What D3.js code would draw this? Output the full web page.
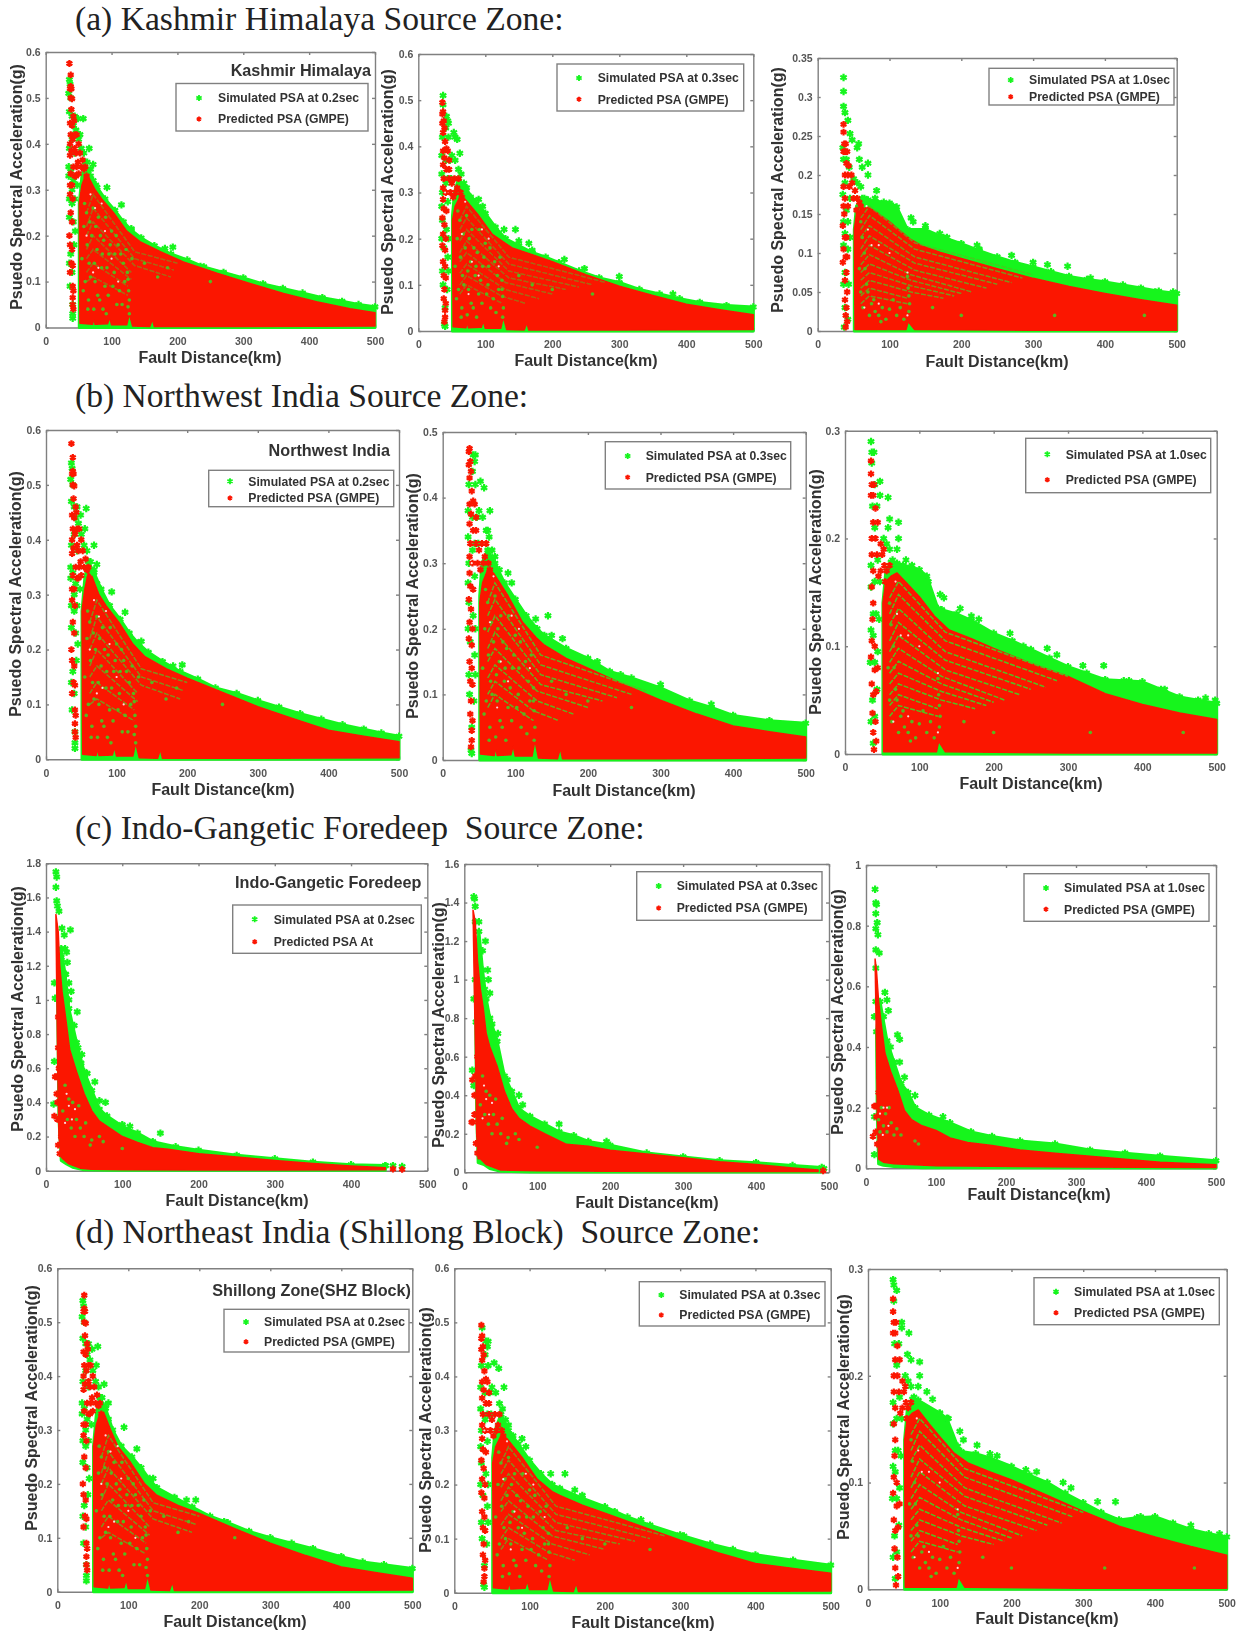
<!DOCTYPE html>
<html>
<head>
<meta charset="utf-8">
<script src="https://cdn.jsdelivr.net/npm/d3@7"></script>
<style>
  body { margin: 0; background: #fff; }
  svg { display: block; }
  .heading { font-family: "Liberation Serif", serif; font-size: 33.6px; fill: #222; white-space: pre; }
  .tick text { font-family: "Liberation Sans", sans-serif; font-size: 10.5px; font-weight: bold; fill: #555; }
  .axisLabel { font-family: "Liberation Sans", sans-serif; font-size: 16px; font-weight: bold; fill: #333; text-anchor: middle; }
  .zoneTitle { font-family: "Liberation Sans", sans-serif; font-size: 16.2px; font-weight: bold; fill: #333; text-anchor: end; }
  .legendText { font-family: "Liberation Sans", sans-serif; font-size: 12.2px; font-weight: bold; fill: #333; }
</style>
</head>
<body>
<div id="chart"></div>
<script>
// tick labels
var xTicks = [0, 100, 200, 300, 400, 500];
var ticks06 = [0, 0.1, 0.2, 0.3, 0.4, 0.5, 0.6];
var ticks05 = [0, 0.1, 0.2, 0.3, 0.4, 0.5];
var ticks035 = [0, 0.05, 0.1, 0.15, 0.2, 0.25, 0.3, 0.35];
var ticks03 = [0, 0.1, 0.2, 0.3];
var ticks18 = [0, 0.2, 0.4, 0.6, 0.8, 1, 1.2, 1.4, 1.6, 1.8];
var ticks16 = [0, 0.2, 0.4, 0.6, 0.8, 1, 1.2, 1.4, 1.6];
var ticks10 = [0, 0.2, 0.4, 0.6, 0.8, 1];

// upper edge of the dense simulated / predicted clouds, [km, g]
var a1Sim = [[51,.27],[55,.33],[60,.36],[68,.33],[78,.305],[90,.28],[105,.255],[118,.23],[130,.212],[145,.195],[165,.178],[190,.16],[215,.147],[240,.132],[270,.12],[300,.108],[330,.095],[360,.085],[390,.075],[420,.065],[450,.057],[475,.05],[500,.045]];
var a1Pred = [[51,.27],[55,.31],[60,.33],[66,.325],[75,.3],[85,.28],[103,.25],[123,.21],[143,.187],[174,.165],[209,.143],[260,.118],[310,.096],[361,.074],[411,.056],[462,.041],[500,.032]];
var a2Sim = [[51,.25],[54,.3],[60,.33],[70,.31],[85,.28],[100,.255],[115,.225],[130,.2],[150,.185],[170,.17],[190,.16],[210,.148],[240,.13],[270,.115],[300,.105],[330,.09],[360,.08],[390,.07],[420,.062],[460,.055],[500,.052]];
var a2Pred = [[51,.24],[55,.27],[62,.29],[70,.285],[90,.25],[110,.21],[130,.19],[140,.18],[170,.165],[200,.15],[250,.122],[300,.097],[350,.077],[400,.058],[450,.046],[500,.035]];
var a3Sim = [[51,.13],[54,.16],[62,.17],[70,.168],[100,.164],[110,.159],[125,.13],[150,.13],[175,.12],[200,.112],[225,.103],[250,.095],[275,.088],[300,.082],[325,.076],[350,.07],[375,.066],[400,.063],[425,.059],[450,.055],[475,.051],[500,.048]];
var a3Pred = [[51,.13],[54,.15],[60,.155],[70,.159],[85,.15],[100,.14],[115,.128],[130,.117],[145,.109],[170,.101],[200,.093],[250,.08],[300,.0675],[350,.057],[400,.048],[450,.04],[500,.033]];
var b1Sim = [[51,.27],[55,.33],[60,.36],[68,.34],[78,.31],[90,.28],[105,.255],[118,.23],[130,.212],[145,.195],[165,.178],[190,.16],[215,.146],[240,.13],[270,.12],[300,.107],[330,.095],[360,.083],[390,.073],[420,.063],[450,.055],[475,.048],[500,.042]];
var b1Pred = [[51,.27],[55,.31],[60,.34],[66,.33],[75,.3],[85,.28],[103,.25],[123,.21],[140,.187],[170,.165],[200,.148],[250,.122],[300,.096],[350,.074],[400,.053],[450,.042],[500,.032]];
var b2Sim = [[51,.25],[54,.3],[62,.32],[72,.3],[85,.27],[100,.245],[115,.22],[130,.2],[140,.19],[170,.17],[200,.155],[230,.135],[260,.125],[300,.11],[340,.09],[370,.08],[400,.068],[450,.06],[500,.056]];
var b2Pred = [[51,.24],[55,.27],[62,.29],[70,.285],[90,.25],[110,.21],[130,.185],[140,.175],[170,.155],[200,.14],[250,.115],[300,.091],[350,.07],[400,.052],[450,.043],[500,.035]];
var b3Sim = [[51,.14],[55,.17],[62,.178],[70,.177],[100,.171],[110,.165],[125,.135],[130,.134],[150,.13],[170,.124],[200,.112],[225,.105],[250,.097],[275,.089],[300,.081],[325,.075],[350,.069],[375,.068],[400,.067],[425,.06],[450,.053],[475,.05],[500,.047]];
var b3Pred = [[51,.14],[55,.16],[62,.165],[70,.168],[85,.157],[100,.146],[120,.128],[140,.115],[170,.107],[200,.098],[250,.084],[300,.072],[350,.056],[400,.046],[450,.038],[500,.032]];
var d1Sim = [[51,.27],[55,.33],[60,.36],[68,.34],[78,.3],[90,.27],[105,.25],[118,.23],[130,.208],[140,.193],[165,.175],[190,.157],[215,.14],[240,.128],[270,.112],[300,.1],[330,.09],[360,.08],[400,.065],[430,.055],[460,.05],[500,.043]];
var d1Pred = [[51,.27],[55,.31],[60,.33],[66,.33],[75,.3],[85,.27],[103,.24],[123,.2],[140,.179],[170,.16],[200,.145],[250,.117],[300,.09],[350,.067],[400,.046],[450,.035],[500,.025]];
var d2Sim = [[51,.25],[54,.3],[62,.33],[72,.3],[85,.275],[100,.245],[115,.22],[130,.2],[140,.193],[170,.175],[200,.159],[230,.14],[260,.125],[300,.107],[340,.09],[370,.08],[400,.07],[450,.06],[500,.051]];
var d2Pred = [[51,.24],[55,.27],[62,.29],[70,.285],[90,.25],[110,.21],[130,.187],[140,.18],[170,.162],[200,.147],[250,.122],[300,.097],[350,.074],[400,.054],[450,.045],[500,.036]];
var d3Sim = [[51,.14],[55,.17],[62,.178],[70,.177],[100,.165],[110,.16],[125,.134],[130,.129],[150,.127],[170,.123],[200,.115],[225,.107],[250,.1],[275,.09],[300,.081],[325,.072],[350,.065],[375,.067],[400,.068],[425,.062],[450,.056],[475,.052],[500,.049]];
var d3Pred = [[51,.14],[55,.16],[62,.165],[70,.168],[85,.155],[100,.143],[120,.1275],[140,.118],[170,.11],[200,.1025],[250,.088],[300,.073],[350,.059],[400,.049],[450,.04],[500,.032]];
var c1Sim = [[20,.06],[17,.3],[15,1.1],[20,1.3],[25,1.15],[30,.95],[40,.75],[50,.58],[60,.47],[70,.36],[80,.32],[100,.26],[120,.22],[140,.17],[170,.14],[200,.12],[250,.09],[300,.07],[350,.05],[400,.035],[445,.03]];
var c1Pred = [[20,.08],[17,.2],[16,.45],[15,.75],[14,1.1],[13,1.5],[16,1.4],[18,1.2],[21,1.05],[25,.92],[31,.71],[40,.58],[50,.45],[60,.35],[70,.29],[85,.245],[100,.2],[120,.165],[140,.135],[160,.125],[200,.1],[250,.08],[300,.06],[350,.042],[400,.028],[445,.018]];
var c2Sim = [[19,.05],[17,.3],[15,1],[20,1.25],[25,1.05],[30,.9],[35,.8],[45,.68],[55,.5],[65,.42],[75,.33],[90,.29],[110,.25],[130,.21],[150,.19],[170,.16],[200,.14],[250,.1],[300,.08],[350,.06],[400,.05],[450,.035],[490,.025]];
var c2Pred = [[19,.07],[17,.2],[16,.5],[14,.9],[12,1.36],[15,1.3],[18,1.1],[22,.95],[26,.85],[30,.72],[35,.65],[45,.55],[55,.42],[65,.33],[75,.28],[90,.24],[110,.2],[140,.145],[170,.135],[200,.115],[250,.095],[300,.075],[350,.055],[400,.04],[450,.022],[485,.012]];
var c3Sim = [[18,.015],[16,.2],[15,.45],[20,.55],[30,.42],[40,.35],[50,.28],[60,.25],[70,.2],[90,.175],[120,.15],[150,.12],[180,.105],[220,.09],[270,.08],[320,.06],[370,.05],[420,.04],[500,.025]];
var c3Pred = [[18,.03],[16,.2],[15,.4],[13,.69],[15,.65],[18,.55],[22,.47],[27,.38],[35,.32],[45,.26],[55,.19],[65,.16],[80,.14],[100,.125],[120,.1],[145,.085],[180,.075],[220,.06],[270,.05],[320,.04],[370,.03],[420,.02],[500,.012]];

// lower edge of the predicted cloud, [km, g]
var floor06 = [[500,.003],[300,.002],[165,.002],[162,.018],[158,.002],[132,.003],[127,.03],[123,.006],[100,.006],[97,.022],[94,.008],[75,.007],[73,.02],[71,.007],[52,.009]];
var floor03 = [[500,.001],[300,.001],[135,.002],[126,.012],[123,.002],[52,.002]];
var c1Floor = [[445,.005],[300,.004],[200,.004],[100,.005],[60,.008],[45,.015],[30,.04],[22,.07]];
var c2Floor = [[485,.004],[300,.004],[200,.005],[100,.008],[50,.012],[30,.04],[22,.07]];
var c3Floor = [[500,.003],[300,.004],[100,.008],[40,.015],[25,.02]];

// lower edge of the simulated cloud where it lifts off the axis
var c1SimFloor = [[445,.002],[80,.002],[50,.005],[35,.02],[27,.04]];
var c2SimFloor = [[490,.001],[90,.002],[50,.005],[35,.02],[27,.04]];
var c3SimFloor = [[500,.001],[80,.002],[40,.006],[25,.01]];

// near field column of points at 35-45 km and the wedge joining it to the cloud
var near02Red = [[36,.575],[38,.55],[38,.525],[37,.52],[39,.52],[38,.5],[40,.498],[39,.475],[42,.46],[37,.445],[40,.44],[43,.45],[38,.42],[41,.41],[37,.4],[39,.385],[44,.39],[37,.375],[42,.35],[38,.335],[44,.33],[37,.31],[40,.31],[37,.29],[41,.28],[38,.25],[40,.23],[36,.2],[37,.18],[40,.17],[39,.14],[37,.12],[41,.135],[41,.09],[42,.08],[41,.065],[41,.05],[42,.04],[46,.38],[47,.35],[49,.36],[46,.33],[50,.335],[52,.38],[54,.35],[56,.365],[58,.345],[60,.35],[62,.33],[50,.4],[47,.42],[44,.42]];
var near02Green = [[36,.54],[37,.53],[35,.51],[38,.5],[36,.47],[40,.46],[44,.46],[42,.44],[46,.43],[40,.41],[36,.39],[44,.38],[35,.35],[38,.34],[35,.33],[42,.32],[40,.3],[36,.28],[44,.28],[40,.27],[36,.24],[42,.23],[45,.21],[43,.18],[38,.16],[36,.14],[40,.12],[37,.09],[41,.05],[41,.03],[41,.02],[50,.41],[54,.39],[58,.38],[63,.36],[68,.345],[72,.32],[48,.31]];
var near03Red = [[36,.495],[37,.475],[36,.47],[38,.455],[36,.45],[39,.44],[37,.43],[40,.41],[37,.39],[42,.395],[39,.375],[44,.39],[37,.36],[42,.35],[38,.33],[46,.35],[37,.31],[41,.3],[37,.285],[38,.265],[42,.26],[36,.245],[39,.23],[37,.21],[41,.2],[36,.185],[40,.175],[37,.15],[40,.14],[38,.12],[41,.115],[39,.09],[38,.07],[41,.06],[40,.045],[40,.03],[39,.02],[46,.33],[48,.3],[50,.32],[52,.29],[54,.33],[56,.3],[58,.31],[60,.33],[63,.3],[65,.29],[46,.37]];
var near03Green = [[37,.51],[37,.49],[42,.465],[44,.455],[41,.44],[36,.42],[45,.42],[35,.38],[41,.37],[47,.37],[35,.34],[44,.33],[36,.3],[41,.32],[35,.27],[44,.28],[36,.24],[42,.22],[35,.2],[45,.2],[38,.18],[44,.16],[36,.13],[45,.13],[37,.1],[43,.09],[40,.05],[39,.015],[40,.01],[50,.38],[55,.37],[60,.35],[64,.34],[68,.32],[72,.31],[78,.29],[49,.33]];
var a3NearRed = [[36,.265],[36,.255],[37,.24],[39,.24],[36,.23],[38,.23],[41,.23],[40,.215],[43,.212],[38,.2],[42,.2],[47,.2],[36,.185],[44,.185],[38,.17],[36,.16],[42,.16],[37,.15],[35,.135],[38,.12],[40,.12],[36,.105],[39,.095],[35,.088],[41,.095],[40,.075],[38,.065],[41,.05],[38,.04],[40,.03],[39,.02],[41,.012],[39,.005],[48,.19],[52,.18],[55,.17],[58,.165],[60,.16],[54,.155],[50,.17],[63,.155]];
var a3NearGreen = [[35,.235],[36,.22],[40,.22],[44,.21],[38,.19],[35,.175],[45,.17],[40,.155],[36,.14],[42,.14],[38,.125],[45,.12],[36,.11],[42,.105],[38,.075],[36,.06],[43,.06],[38,.03],[42,.015],[37,.005],[50,.195],[55,.19],[60,.185],[65,.17]];
var near10Red = [[35,.272],[35,.26],[36,.25],[39,.25],[35,.24],[38,.24],[41,.228],[38,.215],[44,.215],[36,.2],[41,.2],[48,.195],[36,.185],[43,.185],[52,.19],[38,.17],[36,.155],[45,.165],[38,.14],[37,.125],[36,.105],[40,.1],[35,.09],[44,.08],[40,.078],[36,.065],[38,.055],[42,.058],[37,.038],[41,.03],[38,.02],[42,.012],[39,.004],[50,.185],[53,.175],[56,.17],[60,.175],[62,.16],[65,.16],[58,.155],[54,.16],[48,.17]];
var near10Green = [[36,.27],[37,.23],[43,.23],[40,.21],[35,.175],[44,.18],[40,.16],[35,.155],[47,.16],[38,.13],[42,.13],[35,.115],[38,.11],[46,.125],[34,.085],[40,.085],[44,.095],[37,.05],[43,.06],[35,.03],[40,.035],[38,.01],[52,.2],[56,.195],[60,.19],[64,.18],[68,.175],[58,.17]];

// stray points above the clouds
var a1Out = [[49,.455],[52,.42],[57,.455],[66,.39],[72,.355],[76,.31],[93,.305],[115,.267],[110,.235],[130,.215],[181,.172],[193,.175],[235,.133]];
var a2Out = [[45,.45],[53,.43],[58,.415],[55,.42],[62,.385],[90,.285],[96,.27],[128,.22],[145,.22],[150,.195],[165,.19],[170,.175],[218,.155],[248,.135],[300,.118],[380,.08]];
var a3Out = [[36,.325],[36,.307],[36,.288],[38,.28],[42,.27],[45,.253],[48,.245],[57,.24],[55,.235],[58,.22],[62,.21],[70,.215],[70,.2],[82,.18],[80,.17],[92,.165],[105,.16],[110,.15],[130,.145],[133,.14],[150,.135],[170,.125],[180,.12],[222,.11],[225,.105],[270,.097],[300,.088],[320,.085],[348,.083],[380,.068],[470,.05],[495,.05]];
var b1Out = [[49,.445],[55,.42],[57,.457],[68,.39],[72,.355],[93,.305],[112,.268],[132,.21],[135,.215],[180,.17],[193,.172]];
var b2Out = [[45,.465],[52,.425],[57,.415],[65,.38],[62,.35],[90,.285],[95,.27],[128,.215],[145,.22],[150,.19],[165,.185],[213,.15],[245,.13],[300,.115],[370,.085]];
var b3Out = [[35,.29],[36,.28],[39,.28],[40,.25],[47,.253],[47,.24],[58,.238],[60,.218],[58,.21],[72,.215],[72,.2],[70,.19],[82,.18],[78,.175],[90,.175],[100,.165],[110,.16],[112,.16],[128,.148],[133,.145],[155,.135],[170,.128],[180,.125],[222,.112],[240,.1],[272,.098],[285,.092],[320,.082],[348,.082],[382,.068],[430,.06],[485,.052],[498,.05]];
var c1Out = [[13,1.75],[14,1.72],[13,1.66],[14,1.58],[15,1.55],[17,1.52],[21,1.42],[24,1.38],[32,1.41],[25,1.3],[27,1.28],[20,1.25],[28,1.22],[26,1.15],[30,1.1],[33,1.05],[11,1.1],[12,1.01],[30,1],[41,.93],[37,.85],[42,.72],[47,.68],[46,.63],[54,.57],[64,.52],[70,.41],[78,.4],[11,.64],[10,.39],[100,.27],[110,.26],[150,.22],[455,.03],[467,.025],[445,.03]];
var c1Red = [[12,.55],[11,.32],[15,.4],[17,.6],[20,.65],[22,.55],[18,.3],[20,.2],[455,.01],[467,.008],[14,.55],[16,.72],[16,.9],[14,.45],[15,.3],[16,.15],[18,.1]];
var c2Out = [[13,1.43],[14,1.42],[15,1.38],[15,1.3],[20,1.3],[29,1.2],[25,1.15],[32,1.05],[33,1],[28,.95],[35,.93],[13,.9],[16,.78],[38,.77],[46,.72],[11,.53],[13,.45],[59,.48],[75,.4],[80,.35],[130,.25],[195,.16],[493,.02]];
var c2Red = [[11,.48],[10,.26],[14,.4],[18,.6],[22,.45],[12,.26],[16,.15],[18,.1],[492,.008],[14,.3],[15,.5]];
var c3Out = [[13,.92],[14,.875],[15,.87],[14,.84],[16,.81],[14,.79],[17,.77],[14,.72],[19,.71],[30,.555],[32,.52],[45,.44],[48,.425],[48,.35],[55,.3],[70,.24],[110,.17],[14,.66],[12,.5],[14,.55],[12,.17],[12,.045],[35,.4],[27,.58],[25,.5],[35,.35]];
var c3Red = [[12,.205],[14,.205],[10,.105],[15,.17],[18,.25],[20,.3],[22,.13],[25,.27],[14,.12],[16,.08]];
var d1Out = [[49,.45],[57,.455],[55,.42],[66,.385],[72,.35],[94,.305],[112,.265],[130,.21],[135,.21],[182,.17],[195,.17],[235,.13]];
var d2Out = [[45,.465],[53,.425],[59,.415],[66,.38],[90,.285],[95,.27],[128,.22],[147,.22],[160,.19],[170,.18],[213,.15],[248,.135],[305,.105]];
var d3Out = [[35,.29],[36,.285],[40,.28],[47,.25],[47,.245],[57,.24],[55,.22],[60,.215],[72,.213],[72,.2],[70,.19],[82,.185],[90,.178],[100,.165],[110,.16],[112,.16],[128,.148],[133,.14],[152,.135],[170,.127],[180,.125],[220,.112],[235,.11],[272,.1],[283,.095],[320,.082],[345,.082],[380,.068],[450,.06],[490,.052]];

// the thin green curves running through the red, one list per period
var fan02 = [[[62,.25],[72,.29],[135,.165],[200,.14]],[[62,.22],[72,.26],[135,.15],[195,.125]],[[62,.2],[72,.23],[135,.135],[190,.11]],[[62,.17],[72,.2],[130,.12]],[[62,.15],[72,.17],[130,.105]],[[62,.12],[72,.14],[125,.09]],[[62,.1],[72,.11],[125,.07]]];
var fan03 = [[[62,.24],[72,.27],[135,.16],[280,.105]],[[62,.22],[72,.245],[135,.145],[260,.1]],[[62,.195],[72,.22],[135,.13],[240,.095]],[[62,.17],[72,.195],[135,.115],[220,.09]],[[62,.15],[72,.17],[130,.105],[200,.08]],[[62,.125],[72,.145],[130,.09],[180,.07]],[[62,.1],[72,.12],[125,.075],[160,.06]],[[62,.08],[72,.1],[125,.06]]];
var fan10 = [[[60,.145],[72,.16],[135,.113],[300,.072]],[[60,.13],[72,.148],[135,.105],[285,.068]],[[60,.12],[72,.135],[135,.095],[270,.062]],[[60,.105],[72,.122],[135,.087],[250,.06]],[[60,.095],[72,.11],[135,.078],[235,.055]],[[60,.085],[72,.098],[130,.072],[215,.05]],[[60,.075],[72,.086],[130,.065],[200,.048]],[[60,.065],[72,.075],[130,.058],[190,.045]],[[60,.055],[72,.065],[130,.05],[175,.042]],[[60,.045],[72,.055],[125,.042]],[[60,.035],[72,.045],[125,.035]]];

// green flecks and white holes inside the red
var speck02 = [[58,.22],[62,.25],[66,.14],[70,.2],[72,.26],[75,.1],[78,.17],[80,.24],[82,.06],[85,.13],[88,.19],[90,.09],[92,.03],[96,.16],[100,.21],[104,.12],[108,.05],[110,.18],[112,.08],[118,.14],[124,.12],[125,.105],[126,.08],[127,.06],[125,.045],[127,.03],[60,.1],[65,.06],[73,.04],[150,.14],[170,.11],[185,.13],[250,.1],[55,.15],[57,.08],[59,.27],[63,.18],[64,.04],[67,.23],[68,.11],[74,.14],[76,.22],[79,.07],[83,.2],[86,.16],[87,.04],[91,.24],[93,.13],[95,.07],[98,.18],[102,.09],[105,.16],[107,.2],[114,.16],[116,.05],[120,.1],[122,.17],[131,.15]];
var speck03 = [[58,.2],[62,.24],[66,.12],[70,.18],[72,.25],[75,.09],[78,.15],[80,.22],[82,.05],[85,.12],[88,.17],[90,.08],[96,.14],[100,.19],[104,.1],[108,.05],[112,.07],[118,.12],[125,.11],[125,.09],[126,.075],[127,.05],[126,.03],[60,.09],[65,.05],[73,.035],[150,.12],[170,.1],[200,.09],[260,.08],[55,.14],[57,.07],[59,.26],[63,.16],[64,.03],[67,.21],[68,.1],[74,.13],[76,.2],[79,.06],[83,.18],[86,.14],[87,.03],[91,.22],[93,.11],[95,.06],[98,.16],[102,.08],[105,.14],[107,.18],[114,.15],[116,.04],[120,.09],[122,.16]];
var speck10 = [[60,.14],[62,.12],[65,.1],[66,.08],[68,.06],[70,.05],[75,.035],[80,.025],[85,.02],[90,.03],[95,.015],[100,.028],[110,.02],[125,.07],[126,.055],[127,.045],[128,.035],[127,.025],[160,.03],[200,.02],[330,.02],[455,.02],[58,.08],[60,.05],[63,.03],[72,.02],[78,.04],[88,.012],[105,.04],[115,.03],[120,.015]];
var speckC2 = [[22,.35],[25,.5],[28,.3],[30,.42],[33,.25],[35,.4],[38,.2],[40,.3],[43,.38],[45,.25],[50,.2],[52,.28],[58,.15],[60,.18],[70,.2],[75,.17],[100,.13]];
var speckC3 = [[18,.16],[20,.12],[22,.2],[25,.14],[28,.18],[30,.12],[33,.2],[36,.15],[40,.11],[44,.13],[50,.11],[70,.09],[75,.08]];
var white02 = [[68,.29],[75,.26],[85,.27],[62,.2],[80,.13],[90,.21],[100,.15],[72,.12],[110,.1]];
var white03 = [[70,.28],[95,.22],[105,.2],[65,.21],[80,.15],[90,.12],[120,.14],[75,.08],[40,.3]];
var white10 = [[68,.16],[70,.13],[75,.11],[85,.11],[100,.1],[125,.075],[125,.02],[85,.035],[65,.03]];
var whiteC2 = [[27,.45],[30,.38],[25,.28],[34,.3],[38,.36]];
var whiteC3 = [[20,.18],[25,.2],[30,.2],[24,.11],[32,.14]];

var sourceZones = ["(a) Kashmir Himalaya Source Zone:", "(b) Northwest India Source Zone:", "(c) Indo-Gangetic Foredeep  Source Zone:", "(d) Northeast India (Shillong Block)  Source Zone:"];
var simNames = ["Simulated PSA at 0.2sec", "Simulated PSA at 0.3sec", "Simulated PSA at 1.0sec"];
var predName = "Predicted PSA (GMPE)";

// where things sit on the page
var headingY = [30, 407, 839, 1243];
var W = 1242, H = 1631;

var panels = [
  {box:[45.7,375,52,327.5], yMax:.6, yTicks:ticks06, sim:a1Sim, pred:a1Pred, floor:floor06, out:a1Out, nearR:near02Red, nearG:near02Green, fan:fan02, fanOp:.5, speck:speck02, white:white02, top:.575,
   simName:simNames[0], yl:[16,187], xl:[210,363], title:"Kashmir Himalaya", titlePos:[371,76], leg:[176,368,83.5,131,98,119,199,218]},
  {box:[418.3,753.3,54,331], yMax:.6, yTicks:ticks06, sim:a2Sim, pred:a2Pred, floor:floor06, out:a2Out, nearR:near03Red, nearG:near03Green, fan:fan03, fanOp:.5, speck:speck03, white:white03, top:.51,
   simName:simNames[1], yl:[387,192], xl:[586,366], leg:[557,743.7,64,111,78,99.3,579,597.7]},
  {box:[817.7,1176.7,58,331], yMax:.35, yTicks:ticks035, sim:a3Sim, pred:a3Pred, floor:floor03, out:a3Out, nearR:a3NearRed, nearG:a3NearGreen, fan:fan10, fanOp:.75, speck:speck10, white:white10, top:.35,
   simName:simNames[2], yl:[777,190], xl:[997,367], leg:[989,1174,68.3,105,80,96.7,1010.7,1029]},
  {box:[46,399,430,759.3], yMax:.6, yTicks:ticks06, sim:b1Sim, pred:b1Pred, floor:floor06, out:b1Out, nearR:near02Red, nearG:near02Green, fan:fan02, fanOp:.7, speck:speck02, white:white02, top:.575,
   simName:simNames[0], yl:[15,594], xl:[223,795], title:"Northwest India", titlePos:[390,456], leg:[208.7,393.7,470.3,506.7,481.3,498,230,248.3]},
  {box:[442.7,805.7,432,760], yMax:.5, yTicks:ticks05, sim:b2Sim, pred:b2Pred, floor:floor06, out:b2Out, nearR:near03Red, nearG:near03Green, fan:fan03, fanOp:.9, speck:speck03, white:white03, top:.485,
   simName:simNames[1], yl:[412,596], xl:[624,796], leg:[605.3,790.7,441.7,489,456,477.3,627.7,645.7]},
  {box:[845,1216.7,430.7,754], yMax:.3, yTicks:ticks03, sim:b3Sim, pred:b3Pred, floor:floor03, out:b3Out, nearR:near10Red, nearG:near10Green, fan:fan10, fanOp:1, speck:speck10, white:white10, top:.3,
   simName:simNames[2], yl:[815,592], xl:[1031,789], leg:[1025.7,1210.7,438.3,492.7,454.3,479.7,1047.3,1065.7]},
  {box:[46,427.3,863.3,1170.7], yMax:1.8, yTicks:ticks18, sim:c1Sim, pred:c1Pred, floor:c1Floor, simFloor:c1SimFloor, out:c1Out, red:c1Red, speck:speckC2, white:whiteC2,
   simName:simNames[0], predName:"Predicted PSA At", yl:[17,1009], xl:[237,1206], title:"Indo-Gangetic Foredeep", titlePos:[421.3,887.7], leg:[232.7,421.3,905,953.3,919.3,941.7,254.7,273.7]},
  {box:[464.3,829,864,1172.3], yMax:1.6, yTicks:ticks16, sim:c2Sim, pred:c2Pred, floor:c2Floor, simFloor:c2SimFloor, out:c2Out, red:c2Red, speck:speckC2, white:whiteC2,
   simName:simNames[1], yl:[438,1025], xl:[647,1208], leg:[636.7,822,871.7,920.3,886,908,658.7,676.7]},
  {box:[866,1216,865,1168.3], yMax:1, yTicks:ticks10, sim:c3Sim, pred:c3Pred, floor:c3Floor, simFloor:c3SimFloor, out:c3Out, red:c3Red, speck:speckC3, white:whiteC3,
   simName:simNames[2], yl:[837,1012], xl:[1039,1200], leg:[1024,1209,873.7,921.3,888,909.3,1046,1064]},
  {box:[57.3,412.3,1268.3,1591.7], yMax:.6, yTicks:ticks06, sim:d1Sim, pred:d1Pred, floor:floor06, out:d1Out, nearR:near02Red, nearG:near02Green, fan:fan02, fanOp:.7, speck:speck02, white:white02, top:.555,
   simName:simNames[0], yl:[31,1408], xl:[235,1627], title:"Shillong Zone(SHZ Block)", titlePos:[411,1295.7], leg:[224,409,1309.3,1352,1322,1341.7,246,264]},
  {box:[454.3,830.7,1268.3,1592.7], yMax:.6, yTicks:ticks06, sim:d2Sim, pred:d2Pred, floor:floor06, out:d2Out, nearR:near03Red, nearG:near03Green, fan:fan03, fanOp:.7, speck:speck03, white:white03, top:.5,
   simName:simNames[1], yl:[425,1430], xl:[643,1628], leg:[639.3,825,1281.7,1326,1295,1315,661.3,679.3]},
  {box:[868,1226.7,1269,1589.3], yMax:.3, yTicks:ticks03, sim:d3Sim, pred:d3Pred, floor:floor03, out:d3Out, nearR:near10Red, nearG:near10Green, fan:fan10, fanOp:1, speck:speck10, white:white10, top:.3,
   simName:simNames[2], yl:[843,1417], xl:[1047,1624], leg:[1034,1219.3,1277.7,1324.7,1291.7,1312.7,1056,1074]}
];

var GREEN = "#14f51e", RED = "#fb1405", FRAME = "#808080";

var svg = d3.select("#chart").append("svg").attr("width", W).attr("height", H);
svg.append("defs").append("filter").attr("id", "soft")
    .attr("x", "-5%").attr("y", "-5%").attr("width", "110%").attr("height", "110%")
  .append("feGaussianBlur").attr("stdDeviation", 0.55);

svg.selectAll("text.heading").data(sourceZones).enter().append("text")
    .attr("class", "heading")
    .attr("x", 75)
    .attr("y", function(d, i){ return headingY[i]; })
    .text(function(d){ return d; });

var starGreen = d3.symbol().type(d3.symbolAsterisk).size(38);
var starRed = d3.symbol().type(d3.symbolAsterisk).size(32);

function drawStars(g, pts, x, y, color, star){
    g.append("g").selectAll("path").data(pts).enter().append("path")
        .attr("d", star)
        .attr("transform", function(d){ return "translate(" + x(d[0]) + "," + y(d[1]) + ")"; })
        .attr("fill", "none")
        .attr("stroke", color)
        .attr("stroke-width", 2.2);
}

function drawPanel(p){
    var g = svg.append("g").attr("filter", "url(#soft)");
    var x = d3.scaleLinear().domain([0, 500]).range([p.box[0], p.box[1]]);
    var y = d3.scaleLinear().domain([0, p.yMax]).range([p.box[3], p.box[2]]);
    var line = d3.line().x(function(d){ return x(d[0]); }).y(function(d){ return y(d[1]); });
    var fmt = d3.format("~g");

    // frame: labelled left and bottom axes, plain top and right ones
    var bottom = g.append("g").attr("transform", "translate(0," + p.box[3] + ")")
        .call(d3.axisBottom(x).tickValues(xTicks).tickFormat(fmt).tickSizeInner(-3).tickSizeOuter(0).tickPadding(10));
    var left = g.append("g").attr("transform", "translate(" + p.box[0] + ",0)")
        .call(d3.axisLeft(y).tickValues(p.yTicks).tickFormat(fmt).tickSizeInner(-3).tickSizeOuter(0).tickPadding(5));
    var top = g.append("g").attr("transform", "translate(0," + p.box[2] + ")")
        .call(d3.axisTop(x).tickValues(xTicks).tickFormat("").tickSizeInner(-3).tickSizeOuter(0));
    var right = g.append("g").attr("transform", "translate(" + p.box[1] + ",0)")
        .call(d3.axisRight(y).tickValues(p.yTicks).tickFormat("").tickSizeInner(-3).tickSizeOuter(0));
    [bottom, left, top, right].forEach(function(a){
        a.selectAll("path, line").attr("stroke", FRAME).attr("stroke-width", 1.4);
    });

    // simulated cloud
    var simLow = p.simFloor || [[p.sim[p.sim.length - 1][0], 0], [p.sim[0][0], 0]];
    g.append("path").attr("d", line(p.sim.concat(simLow)) + "Z")
        .attr("fill", GREEN).attr("stroke", GREEN).attr("stroke-width", 3).attr("stroke-linejoin", "round");
    drawStars(g, p.sim.slice(2), x, y, GREEN, starGreen);
    if (p.nearG) drawStars(g, p.nearG.filter(function(d){ return d[1] <= p.top; }), x, y, GREEN, starGreen);
    drawStars(g, p.out, x, y, GREEN, starGreen);

    // predicted cloud on top
    g.append("path").attr("d", line(p.pred.concat(p.floor)) + "Z")
        .attr("fill", RED).attr("stroke", RED).attr("stroke-width", 1.5).attr("stroke-linejoin", "round");
    if (p.nearR) drawStars(g, p.nearR.filter(function(d){ return d[1] <= p.top; }), x, y, RED, starRed);
    if (p.red) drawStars(g, p.red, x, y, RED, starRed);

    // fan of curves, then flecks
    if (p.fan) {
        g.append("g").selectAll("path").data(p.fan).enter().append("path")
            .attr("d", line)
            .attr("fill", "none")
            .attr("stroke", "#55c01e")
            .attr("stroke-width", 1.5)
            .attr("stroke-dasharray", "5 1.5")
            .attr("opacity", p.fanOp);
    }
    g.append("g").selectAll("circle").data(p.speck).enter().append("circle")
        .attr("cx", function(d){ return x(d[0]); })
        .attr("cy", function(d){ return y(d[1]); })
        .attr("r", 1.8)
        .attr("fill", "#58b81e");
    g.append("g").selectAll("circle").data(p.white).enter().append("circle")
        .attr("cx", function(d){ return x(d[0]); })
        .attr("cy", function(d){ return y(d[1]); })
        .attr("r", 1.1)
        .attr("fill", "#fff")
        .attr("opacity", .85);

    // labels
    g.append("text").attr("class", "axisLabel")
        .attr("x", p.xl[0]).attr("y", p.xl[1])
        .text("Fault Distance(km)");
    g.append("text").attr("class", "axisLabel")
        .attr("transform", "translate(" + (p.yl[0] + 6) + "," + p.yl[1] + ") rotate(-90)")
        .text("Psuedo Spectral Acceleration(g)");
    if (p.title) {
        g.append("text").attr("class", "zoneTitle")
            .attr("x", p.titlePos[0]).attr("y", p.titlePos[1])
            .text(p.title);
    }

    // legend box
    var L = p.leg;
    g.append("rect").attr("x", L[0]).attr("y", L[2]).attr("width", L[1] - L[0]).attr("height", L[3] - L[2])
        .attr("fill", "#fff").attr("stroke", FRAME).attr("stroke-width", 1.4);
    var labels = [[p.simName, L[4], GREEN], [p.predName || predName, L[5], RED]];
    labels.forEach(function(row){
        g.append("path").attr("d", d3.symbol().type(d3.symbolAsterisk).size(row[2] == GREEN ? 26 : 18))
            .attr("transform", "translate(" + L[6] + "," + row[1] + ")")
            .attr("fill", "none").attr("stroke", row[2]).attr("stroke-width", 1.8);
        g.append("text").attr("class", "legendText")
            .attr("x", L[7]).attr("y", row[1] + 4.3)
            .text(row[0]);
    });
}

panels.forEach(drawPanel);
</script>
</body>
</html>
